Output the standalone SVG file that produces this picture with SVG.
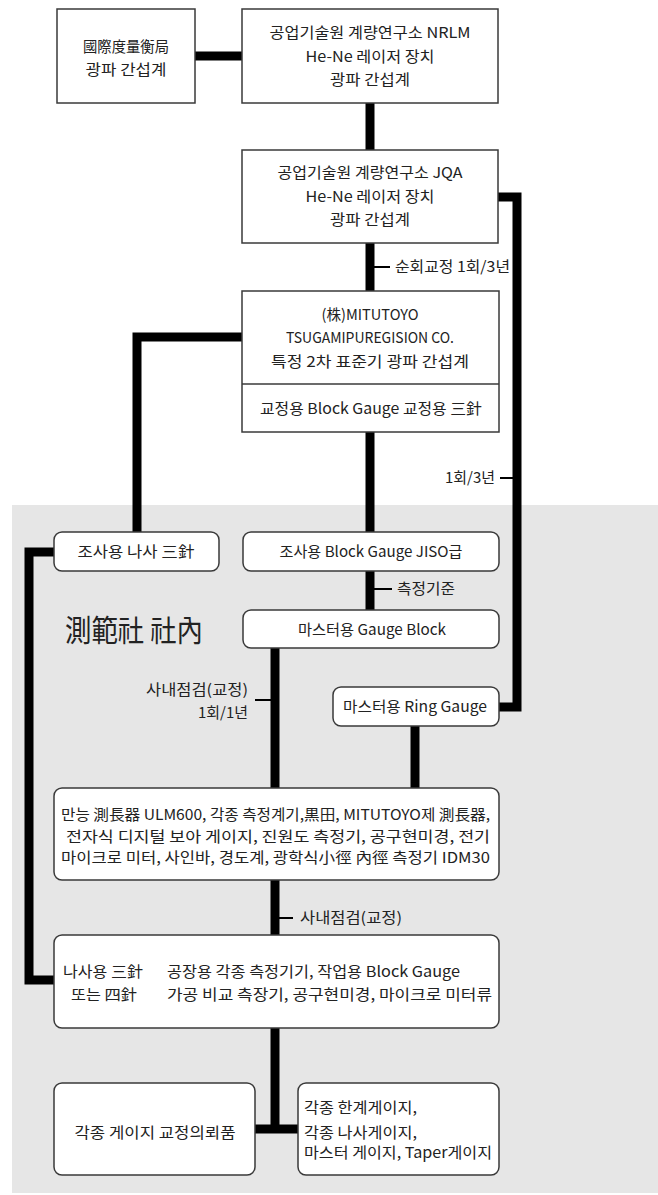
<svg xmlns="http://www.w3.org/2000/svg" width="658" height="1195" viewBox="0 0 658 1195">
<style>
.box{fill:#fff;stroke:#3a3a3a;stroke-width:1.5}
.t{font-family:"Noto Sans CJK KR","Noto Sans",sans-serif;font-size:15px;fill:#222;lengthAdjust:spacingAndGlyphs}
.c{text-anchor:middle}
.e{text-anchor:end}
.ln{fill:none;stroke:#000;stroke-width:9}
.tk{fill:none;stroke:#000;stroke-width:2}
</style>
<rect x="12" y="505" width="646" height="688" fill="#e6e6e6"/>
<text x="65" y="641" font-family="Noto Sans CJK KR, sans-serif" font-size="30" fill="#222" textLength="138" lengthAdjust="spacingAndGlyphs">測範社 社內</text>
<g id="connectors">
<path class="ln" d="M195,56 H242"/>
<path class="ln" d="M370,103 V150"/>
<path class="ln" d="M498,197 H517 V707 H499"/>
<path class="ln" d="M370,243 V291"/>
<path class="ln" d="M242,337 H137 V532"/>
<path class="ln" d="M370,432 V532"/>
<path class="ln" d="M370,571 V610"/>
<path class="ln" d="M54,552 H29 V980 H54"/>
<path class="ln" d="M275,648 V788"/>
<path class="ln" d="M415,726 V788"/>
<path class="ln" d="M275,880 V935"/>
<path class="ln" d="M275,1028 V1129"/>
<path class="ln" d="M255,1129 H298"/>
<path class="tk" d="M372,267 H390"/>
<path class="tk" d="M500,478 H517"/>
<path class="tk" d="M372,589 H392"/>
<path class="tk" d="M255,700 H272"/>
<path class="tk" d="M278,918 H293"/>
<text class="t" x="395" y="272" textLength="115" lengthAdjust="spacingAndGlyphs">순회교정 1회/3년</text>
<text class="t" x="445" y="483" textLength="50" lengthAdjust="spacingAndGlyphs">1회/3년</text>
<text class="t" x="397" y="594" textLength="58" lengthAdjust="spacingAndGlyphs">측정기준</text>
<text class="t e" x="248" y="695" textLength="102" lengthAdjust="spacingAndGlyphs">사내점검(교정)</text>
<text class="t e" x="248" y="718" textLength="50" lengthAdjust="spacingAndGlyphs">1회/1년</text>
<text class="t" x="300" y="923" textLength="102" lengthAdjust="spacingAndGlyphs">사내점검(교정)</text>
</g>
<g id="n1">
<rect class="box" x="57" y="9" width="138" height="94"/>
<text class="t c" x="126" y="52" textLength="86" lengthAdjust="spacingAndGlyphs">國際度量衡局</text>
<text class="t c" x="126" y="75" textLength="81" lengthAdjust="spacingAndGlyphs">광파 간섭계</text>
</g>
<g id="n2">
<rect class="box" x="242" y="9" width="256" height="94"/>
<text class="t c" x="370" y="38" textLength="201" lengthAdjust="spacingAndGlyphs">공업기술원 계량연구소 NRLM</text>
<text class="t c" x="370" y="62" textLength="129" lengthAdjust="spacingAndGlyphs">He-Ne 레이저 장치</text>
<text class="t c" x="370" y="85" textLength="80" lengthAdjust="spacingAndGlyphs">광파 간섭계</text>
</g>
<g id="n3">
<rect class="box" x="242" y="150" width="256" height="93"/>
<text class="t c" x="370" y="178" textLength="185" lengthAdjust="spacingAndGlyphs">공업기술원 계량연구소 JQA</text>
<text class="t c" x="370" y="202" textLength="129" lengthAdjust="spacingAndGlyphs">He-Ne 레이저 장치</text>
<text class="t c" x="370" y="225" textLength="80" lengthAdjust="spacingAndGlyphs">광파 간섭계</text>
</g>
<g id="n4">
<rect class="box" x="242" y="291" width="257" height="141"/>
<line x1="242" y1="384" x2="499" y2="384" stroke="#3a3a3a" stroke-width="1.5"/>
<text class="t c" x="370" y="320" textLength="97" lengthAdjust="spacingAndGlyphs">(株)MITUTOYO</text>
<text class="t c" x="370" y="343" textLength="168" lengthAdjust="spacingAndGlyphs">TSUGAMIPUREGISION CO.</text>
<text class="t c" x="370" y="367" textLength="198" lengthAdjust="spacingAndGlyphs">특정 2차 표준기 광파 간섭계</text>
<text class="t c" x="371" y="414" textLength="222" lengthAdjust="spacingAndGlyphs">교정용 Block Gauge 교정용 三針</text>
</g>
<g id="n5">
<rect class="box" x="54" y="532" width="165" height="39" rx="8"/>
<text class="t c" x="136" y="557" textLength="117" lengthAdjust="spacingAndGlyphs">조사용 나사 三針</text>
</g>
<g id="n6">
<rect class="box" x="243" y="532" width="256" height="39" rx="8"/>
<text class="t c" x="371" y="557" textLength="183" lengthAdjust="spacingAndGlyphs">조사용 Block Gauge JISO급</text>
</g>
<g id="n7">
<rect class="box" x="243" y="610" width="256" height="38" rx="8"/>
<text class="t c" x="372" y="635" textLength="148" lengthAdjust="spacingAndGlyphs">마스터용 Gauge Block</text>
</g>
<g id="n8">
<rect class="box" x="333" y="687" width="166" height="39" rx="8"/>
<text class="t c" x="415" y="712" textLength="144" lengthAdjust="spacingAndGlyphs">마스터용 Ring Gauge</text>
</g>
<g id="n9">
<rect class="box" x="54" y="788" width="445" height="92" rx="8"/>
<text class="t" x="61" y="820" textLength="429" lengthAdjust="spacingAndGlyphs">만능 測長器 ULM600, 각종 측정계기,黒田, MITUTOYO제 測長器,</text>
<text class="t" x="66" y="842" textLength="424" lengthAdjust="spacingAndGlyphs">전자식 디지털 보아 게이지, 진원도 측정기, 공구현미경, 전기</text>
<text class="t" x="61" y="863" textLength="429" lengthAdjust="spacingAndGlyphs">마이크로 미터, 사인바, 경도계, 광학식小徑 內徑 측정기 IDM30</text>
</g>
<g id="n10">
<rect class="box" x="54" y="935" width="445" height="93" rx="8"/>
<text class="t" x="63" y="977" textLength="80" lengthAdjust="spacingAndGlyphs">나사용 三針</text>
<text class="t" x="71" y="1000" textLength="66" lengthAdjust="spacingAndGlyphs">또는 四針</text>
<text class="t" x="167" y="977" textLength="293" lengthAdjust="spacingAndGlyphs">공장용 각종 측정기기, 작업용 Block Gauge</text>
<text class="t" x="167" y="1000" textLength="325" lengthAdjust="spacingAndGlyphs">가공 비교 측장기, 공구현미경, 마이크로 미터류</text>
</g>
<g id="n11">
<rect class="box" x="54" y="1083" width="201" height="92" rx="8"/>
<text class="t c" x="155" y="1138" textLength="161" lengthAdjust="spacingAndGlyphs">각종 게이지 교정의뢰품</text>
</g>
<g id="n12">
<rect class="box" x="298" y="1083" width="201" height="92" rx="8"/>
<text class="t" x="304" y="1113" textLength="113" lengthAdjust="spacingAndGlyphs">각종 한계게이지,</text>
<text class="t" x="304" y="1138" textLength="113" lengthAdjust="spacingAndGlyphs">각종 나사게이지,</text>
<text class="t" x="304" y="1158" textLength="188" lengthAdjust="spacingAndGlyphs">마스터 게이지, Taper게이지</text>
</g>
</svg>
